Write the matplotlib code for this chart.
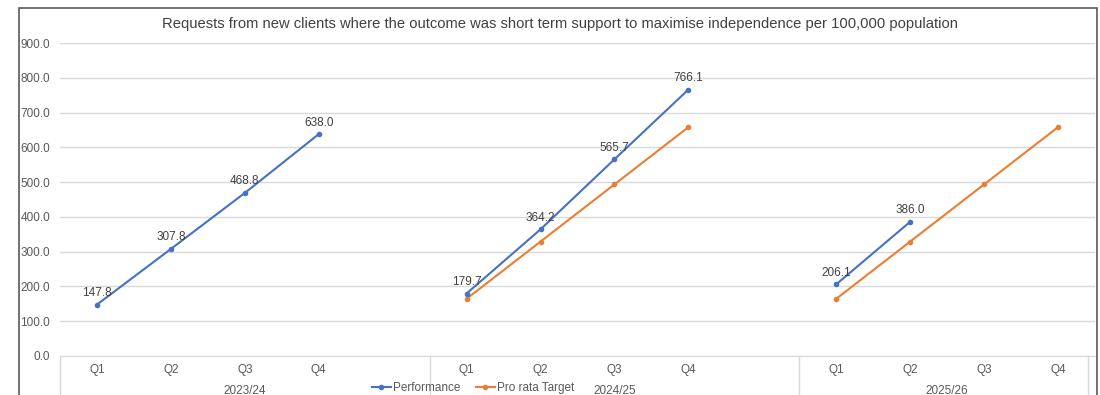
import numpy as np
import matplotlib
matplotlib.use("Agg")
import matplotlib.pyplot as plt
from matplotlib.lines import Line2D
from matplotlib.patches import Rectangle

plt.rcParams['font.family'] = ['Liberation Sans', 'DejaVu Sans']

title = ("Requests from new clients where the outcome was short term support "
         "to maximise independence per 100,000 population")
years = ["2023/24", "2024/25", "2025/26"]
quarters = ["Q1", "Q2", "Q3", "Q4"]
nan = np.nan
perf_2324 = [147.8, 307.8, 468.8, 638.0]
perf_2425 = [179.7, 364.2, 565.7, 766.1]
perf_2526 = [206.1, 386.0, nan, nan]
target_2324 = [nan, nan, nan, nan]
target_2425 = [164.5, 329.0, 493.5, 658.0]
target_2526 = [164.5, 329.0, 493.5, 658.0]
yticks = [0, 100, 200, 300, 400, 500, 600, 700, 800, 900]

performance = [perf_2324, perf_2425, perf_2526]
targets = [target_2324, target_2425, target_2526]

BLUE = "#4472C4"
ORANGE = "#ED7D31"
GRID = "#D9D9D9"
TXT = "#595959"

W, H = 1100, 395
fig = plt.figure(figsize=(W / 100, H / 100), dpi=100)
left, right, top, bottom = 60, 1095, 43, 356
ax = fig.add_axes([left / W, 1 - bottom / H, (right - left) / W, (bottom - top) / H])

# each financial year occupies five category slots (last year only four)
group_start = [0, 5, 10]
group_end = [4.5, 9.5, 13.5]

for g, year in enumerate(years):
    xs = [group_start[g] + i for i in range(len(quarters))]
    ax.plot(xs, targets[g], color=ORANGE, lw=1.5, marker="o", ms=3, zorder=3)
    ax.plot(xs, performance[g], color=BLUE, lw=1.5, marker="o", ms=3, zorder=4)
    for x, v in zip(xs, performance[g]):
        if not np.isnan(v):
            ax.annotate(f"{v:.1f}", (x, v), xytext=(0, 4), textcoords="offset points",
                        ha="center", va="bottom", fontsize=8.5, color="#404040", zorder=5)

ax.set_xlim(-0.5, 13.5)
ax.set_ylim(0, 900)
ax.set_yticks(yticks)
ax.set_yticklabels([f"{v:.1f}" for v in yticks], fontsize=8.5, color=TXT)
ax.yaxis.grid(True, color=GRID, lw=1)
ax.set_axisbelow(True)
ax.tick_params(axis="y", length=0, pad=7)
ax.set_xticks([])
for s in ["top", "right", "left"]:
    ax.spines[s].set_visible(False)
ax.spines["bottom"].set_color(GRID)

# category axis: quarter labels, year labels and group separators
trans = ax.get_xaxis_transform()
for g, year in enumerate(years):
    for i, q in enumerate(quarters):
        ax.text(group_start[g] + i, -14 / (bottom - top), q, transform=trans,
                ha="center", va="center", fontsize=8.5, color=TXT, clip_on=False)
    centre = (group_start[g] - 0.5 + group_end[g]) / 2
    ax.text(centre, -35 / (bottom - top), year, transform=trans,
            ha="center", va="center", fontsize=8.5, color=TXT, clip_on=False)
for xv in [-0.5, 4.5, 9.5, 13.4]:
    ax.plot([xv, xv], [0, -0.2], transform=trans, color=GRID, lw=1, clip_on=False)

fig.text(560 / W, 1 - 24 / H, title, ha="center", va="center", fontsize=10.6, color="#404040")

# outer chart frame
fig.patches.append(Rectangle((19 / W, -0.05), (1097 - 19) / W, 1.05 - 8 / H,
                             transform=fig.transFigure, fill=False,
                             edgecolor="#595959", lw=1.2))

handles = [Line2D([], [], color=BLUE, lw=1.5, marker="o", ms=3),
           Line2D([], [], color=ORANGE, lw=1.5, marker="o", ms=3)]
fig.legend(handles, ["Performance", "Pro rata Target"], loc="center",
           bbox_to_anchor=(473 / W, 1 - 388 / H), ncol=2, frameon=False,
           fontsize=8.5, handlelength=1.6, handletextpad=0.2, columnspacing=1.3,
           labelcolor=TXT)

fig.savefig("out.png", dpi=100)
